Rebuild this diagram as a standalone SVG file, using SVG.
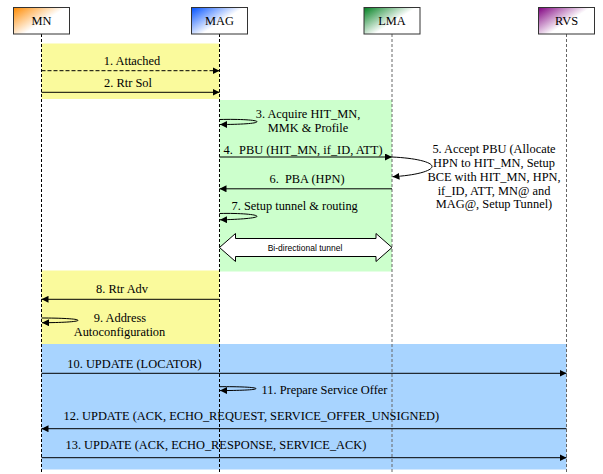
<svg xmlns="http://www.w3.org/2000/svg" width="603" height="474" viewBox="0 0 603 474">
<style>
.t{font-family:"Liberation Serif","Times New Roman",serif;font-size:12.4px;fill:#000}
.c{text-anchor:middle}
.box{stroke:#333;stroke-width:1}
.ll{stroke:#000;stroke-width:1;stroke-dasharray:3,2;fill:none}
.llg{stroke:#666;stroke-width:1;stroke-dasharray:3,2;fill:none}
.m{stroke:#000;stroke-width:1;fill:none;marker-end:url(#ah)}
</style>
<defs>
<marker id="ah" markerWidth="8" markerHeight="7" refX="7" refY="3.5" orient="auto" markerUnits="userSpaceOnUse">
<path d="M0,0 L7,3.5 L0,7 Z" fill="#000"/>
</marker>
<linearGradient id="gMN" x1="0" y1="0" x2="0.8" y2="0.6"><stop offset="0" stop-color="#ff8a00"/><stop offset="0.75" stop-color="#fff"/></linearGradient>
<linearGradient id="gMAG" x1="0" y1="0" x2="0.8" y2="0.6"><stop offset="0" stop-color="#0050ff"/><stop offset="0.75" stop-color="#fff"/></linearGradient>
<linearGradient id="gLMA" x1="0" y1="0" x2="0.8" y2="0.6"><stop offset="0" stop-color="#008020"/><stop offset="0.75" stop-color="#fff"/></linearGradient>
<linearGradient id="gRVS" x1="0" y1="0" x2="0.8" y2="0.6"><stop offset="0" stop-color="#800080"/><stop offset="0.75" stop-color="#fff"/></linearGradient>
</defs>
<rect width="603" height="474" fill="#fff"/>
<g id="regions">
<rect x="41.5" y="43.5" width="178" height="55.5" fill="#fafa9c"/>
<rect x="219.5" y="100" width="172.5" height="171.5" fill="#ccffcc"/>
<rect x="41.5" y="270.5" width="178" height="73.5" fill="#fafa9c"/>
<rect x="41.5" y="344" width="525" height="125.5" fill="#a8d4ff"/>
</g>
<g id="lifelines">
<line class="ll" x1="41.5" y1="34" x2="41.5" y2="474"/>
<line class="ll" x1="219.5" y1="34" x2="219.5" y2="474"/>
<line class="llg" x1="392" y1="34" x2="392" y2="474"/>
<line class="llg" x1="566.5" y1="34" x2="566.5" y2="474"/>
</g>
<g id="MN"><rect class="box" x="13.5" y="7.5" width="56" height="26.5" fill="url(#gMN)"/><text class="t c" x="41.5" y="25">MN</text></g>
<g id="MAG"><rect class="box" x="191.5" y="7.5" width="56" height="26.5" fill="url(#gMAG)"/><text class="t c" x="219.5" y="25">MAG</text></g>
<g id="LMA"><rect class="box" x="364" y="7.5" width="56" height="26.5" fill="url(#gLMA)"/><text class="t c" x="392" y="25">LMA</text></g>
<g id="RVS"><rect class="box" x="538.5" y="7.5" width="56" height="26.5" fill="url(#gRVS)"/><text class="t c" x="566.5" y="25">RVS</text></g>
<g id="connectors">
<line class="m" x1="41.5" y1="70.7" x2="219.5" y2="70.7" stroke-dasharray="4,2"/>
<line class="m" x1="41.5" y1="92.3" x2="219.5" y2="92.3"/>
<path class="m" d="M219.5,119.5 C240,119 257,120 257,121.7 C257,123.5 240,124.5 220,124.5"/>
<line class="m" x1="219.5" y1="157" x2="392" y2="157"/>
<path class="m" d="M392,157 C415,158 432,162 432,166.5 C432,171 415,175.5 392.5,176.7"/>
<line class="m" x1="392" y1="188.8" x2="219.5" y2="188.8"/>
<path class="m" d="M219.5,213.5 C240,213 257,214.5 257,216.3 C257,218 240,219.5 220,219.8"/>
<polygon points="219.5,247.5 235.5,233.5 235.5,238.5 376,238.5 376,233.5 392,247.5 376,261.5 376,256.5 235.5,256.5 235.5,261.5" fill="#fff" stroke="#000" stroke-width="1"/>
<line class="m" x1="219.5" y1="299.3" x2="41.5" y2="299.3"/>
<path class="m" d="M41.5,318 C60,318 78,318.8 78,320.3 C78,321.8 60,322.7 42,322.7"/>
<line class="m" x1="41.5" y1="373.3" x2="566.5" y2="373.3"/>
<path class="m" d="M219.5,386.7 C238,386.5 256,387.2 256,388.6 C256,390 238,390.5 220,390.6"/>
<line class="m" x1="566.5" y1="428.7" x2="41.5" y2="428.7"/>
<line class="m" x1="41.5" y1="457.7" x2="566.5" y2="457.7"/>
</g>
<g id="labels">
<text class="t c" x="132" y="65">1. Attached</text>
<text class="t c" x="128" y="87">2. Rtr Sol</text>
<text class="t c" x="308" y="117.5">3. Acquire HIT_MN,</text>
<text class="t c" x="308" y="131.5">MMK &amp; Profile</text>
<text class="t" x="223.5" y="154" xml:space="preserve">4.  PBU (HIT_MN, if_ID, ATT)</text>
<text class="t c" x="494" y="153.3">5. Accept PBU (Allocate</text>
<text class="t c" x="494" y="167">HPN to HIT_MN, Setup</text>
<text class="t c" x="494" y="180.8">BCE with HIT_MN, HPN,</text>
<text class="t c" x="494" y="194.5">if_ID, ATT, MN@ and</text>
<text class="t c" x="494" y="208.3">MAG@, Setup Tunnel)</text>
<text class="t c" x="307" y="182.5" xml:space="preserve">6.  PBA (HPN)</text>
<text class="t" x="231.5" y="210">7. Setup tunnel &amp; routing</text>
<text x="305" y="250.5" text-anchor="middle" font-family="Liberation Sans, Arial, sans-serif" font-size="8.5">Bi-directional tunnel</text>
<text class="t c" x="122" y="292.5">8. Rtr Adv</text>
<text class="t c" x="120" y="321.5">9. Address</text>
<text class="t c" x="119.5" y="335.5">Autoconfiguration</text>
<text class="t c" x="134.5" y="367.5">10. UPDATE (LOCATOR)</text>
<text class="t" x="261.5" y="394">11. Prepare Service Offer</text>
<text class="t" x="63.5" y="420">12. UPDATE (ACK, ECHO_REQUEST, SERVICE_OFFER_UNSIGNED)</text>
<text class="t" x="65.5" y="449">13. UPDATE (ACK, ECHO_RESPONSE, SERVICE_ACK)</text>
</g>
</svg>
